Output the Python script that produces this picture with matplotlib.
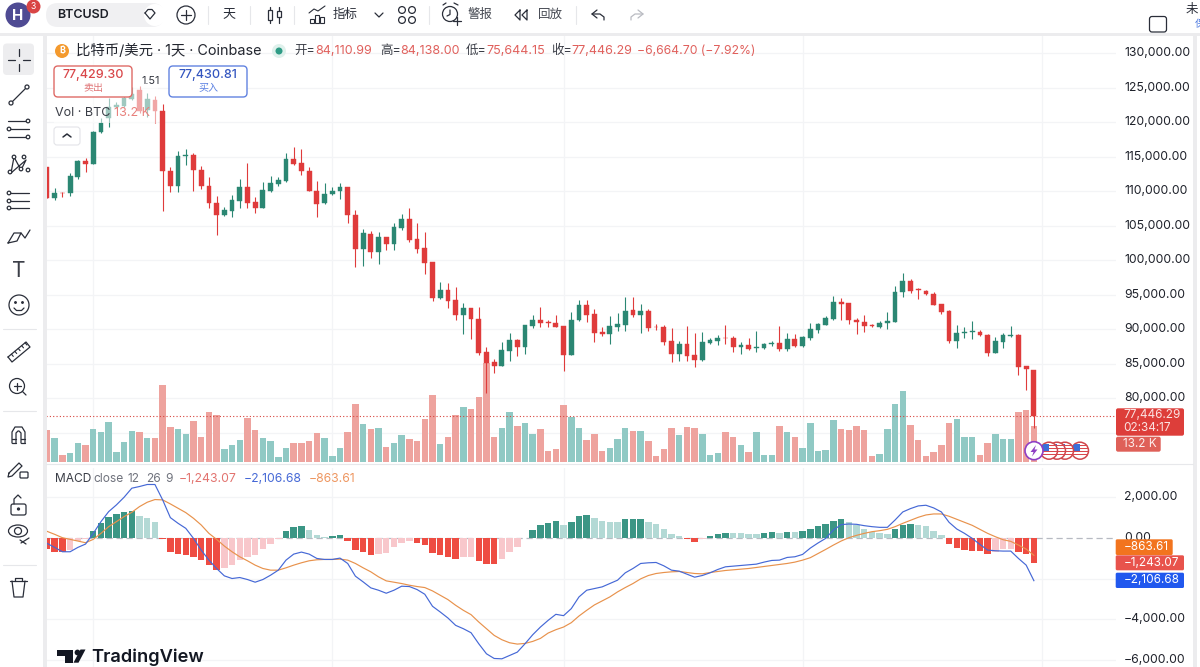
import matplotlib
matplotlib.use('Agg')
import matplotlib.pyplot as plt
import matplotlib.patches as mpatches
from matplotlib.transforms import blended_transform_factory, ScaledTranslation
import numpy as np

# daily candles
candle_open = [113480, 108990, 109810, 109710, 112030, 114400, 114010, 118550, 120580, 122270,
               122370, 123330, 124685, 121790, 123240, 121690, 113000, 110780, 115120, 115270,
               113090, 110830, 108260, 106520, 107200, 108650, 110580, 108410, 107590, 110100,
               111020, 111550, 114640, 114060, 113000, 110050, 108260, 109570, 110000, 110580,
               106520, 101600, 103870, 101260, 103390, 102320, 104740, 106040, 103090, 101740,
               99760, 94490, 95700, 94250, 92080, 93050, 91500, 86670, 85220, 84740,
               86910, 88460, 87440, 90490, 91350, 91060, 90970, 90490, 86330, 91310,
               93480, 92220, 89570, 89330, 90390, 90680, 92760, 92130, 92610, 90390,
               90340, 88310, 86480, 87880, 86280, 85510, 88070, 88360, 88800, 88700,
               87440, 87780, 87340, 87300, 87930, 88020, 87150, 88600, 87510, 88720,
               89930, 90650, 91430, 93890, 93790, 91380, 91090, 90600, 90360, 90940,
               91090, 95340, 97030, 95770, 95580, 95100, 93600, 92590, 88290, 89490,
               89590, 89590, 89200, 86550, 88140, 89010, 89200, 84620, 84110.99]
candle_high = [113480, 110440, 109950, 112610, 114540, 114880, 118790, 120580, 123480, 123000,
               124200, 125170, 125265, 124200, 123820, 122610, 113480, 115850, 116090, 115510,
               113670, 112030, 109330, 107680, 109470, 111790, 114060, 109230, 111400, 112220,
               112030, 115510, 116470, 116090, 113480, 111550, 111160, 110580, 111260, 110680,
               107300, 104500, 104300, 104160, 103440, 105460, 106720, 107530, 105360, 104150,
               99810, 96910, 96670, 96090, 93770, 93100, 93190, 87490, 85650, 88120,
               89420, 88550, 90630, 92030, 93290, 91310, 92030, 90540, 92470, 94250,
               94250, 92900, 90390, 91930, 92320, 94740, 94640, 93620, 92900, 90770,
               90580, 90150, 88260, 90490, 89520, 89570, 88700, 89130, 90580, 88990,
               88120, 88750, 89710, 88020, 88260, 90490, 89520, 89280, 89010, 90940,
               90850, 91910, 94860, 94470, 93840, 91670, 92010, 90800, 91230, 92440,
               96300, 98090, 97270, 95920, 95680, 95430, 93650, 92780, 90560, 90270,
               91180, 89880, 89250, 88820, 89490, 90510, 89300, 84660, 84138.00]
candle_low = [108990, 108750, 109130, 109330, 111740, 112850, 113950, 118410, 119370, 122030,
              122270, 123240, 121400, 120700, 119860, 107200, 109950, 109950, 113770, 110100,
              110290, 107640, 103670, 106430, 106230, 107540, 107640, 106810, 107540, 109900,
              110780, 111350, 113870, 112320, 110000, 106330, 108170, 109420, 108940, 105460,
              98990, 99180, 100290, 99420, 101500, 101500, 104400, 102610, 101010, 98020,
              94160, 94440, 93050, 91350, 89280, 88600, 86230, 80770, 83630, 84690,
              85410, 86140, 86480, 90240, 90390, 90390, 90340, 83920, 86280, 91210,
              91060, 88210, 89080, 87920, 89710, 89710, 91740, 89420, 89710, 89950,
              87680, 85220, 85370, 85410, 84590, 85370, 87920, 87680, 87880, 86720,
              86480, 87060, 86720, 87200, 87540, 86910, 86860, 87390, 87460, 88430,
              89400, 90560, 91330, 91330, 90750, 89300, 89640, 90310, 90220, 90030,
              90990, 94610, 95190, 94370, 94950, 93500, 92150, 87950, 87220, 88670,
              88620, 89010, 86160, 86500, 87270, 88820, 83360, 81190, 75644.15]
candle_close = [108990, 109810, 109710, 112220, 114400, 114010, 118650, 119950, 122270, 122510,
                123480, 124110, 121690, 123330, 121690, 113000, 110780, 115120, 115220, 113090,
                110780, 108260, 106520, 107300, 108750, 110580, 108360, 107590, 110200, 111160,
                111640, 114690, 114010, 112950, 110000, 108220, 109660, 110050, 110580, 106520,
                101600, 103920, 101260, 103340, 102320, 104830, 106040, 102950, 101690, 99660,
                94490, 95700, 94160, 92080, 93050, 91450, 86620, 85170, 84740, 86960,
                88460, 87440, 90580, 91350, 90920, 90870, 90390, 86330, 91350, 93530,
                92130, 89470, 89370, 90440, 90730, 92710, 92080, 92610, 90240, 90290,
                88210, 86480, 87880, 86190, 85510, 88170, 88460, 88750, 88700, 87440,
                87780, 87100, 87440, 87930, 88070, 87150, 88600, 87540, 88820, 89980,
                90700, 91620, 93940, 93700, 91330, 91040, 90460, 90510, 90940, 91230,
                95340, 96980, 95580, 95680, 95050, 93550, 92440, 88290, 89490, 89640,
                89690, 89110, 86550, 88290, 89200, 89200, 84570, 84180, 77446.29]

# volume, thousands of BTC
volume_k = [11.8, 8.7, 2.7, 3.4, 7.0, 6.3, 12.1, 11.0, 14.8, 3.8,
            7.4, 11.4, 11.0, 8.7, 8.7, 28.0, 12.8, 12.1, 10.4, 15.1,
            9.3, 18.5, 17.2, 4.7, 6.4, 8.1, 16.1, 11.8, 8.7, 7.8,
            1.9, 5.1, 7.0, 7.0, 7.8, 10.8, 8.7, 2.3, 5.1, 11.0,
            21.2, 13.8, 12.1, 12.5, 5.7, 7.0, 9.8, 8.4, 7.8, 15.8,
            24.6, 6.7, 9.1, 17.2, 20.2, 19.5, 23.6, 36.0, 9.3, 12.5,
            18.5, 13.1, 14.2, 10.4, 12.1, 4.1, 4.7, 20.8, 16.5, 12.5,
            8.1, 10.4, 4.1, 5.3, 8.5, 12.5, 11.4, 11.4, 7.8, 2.3,
            4.7, 12.5, 9.8, 12.8, 12.5, 10.2, 2.7, 3.4, 11.0, 9.1,
            6.4, 3.8, 11.0, 2.7, 2.7, 13.1, 11.0, 9.4, 5.3, 14.4,
            4.0, 4.4, 15.4, 12.0, 11.6, 13.1, 11.8, 2.3, 3.0, 12.0,
            21.4, 25.8, 13.5, 8.0, 2.3, 3.8, 6.4, 14.2, 15.8, 9.1,
            9.3, 2.7, 7.0, 10.4, 8.4, 8.4, 18.4, 19.1, 13.2]

# macd pane
macd_hist = [-574, -689, -722, -607, -148, -66, 328, 705, 1017, 1148,
             1246, 1296, 1066, 968, 754, -49, -705, -787, -836, -935,
             -1099, -1345, -1574, -1492, -1345, -1099, -935, -869, -574, -312,
             -49, 328, 508, 574, 377, 148, 49, 66, 115, -148,
             -607, -705, -836, -787, -738, -476, -246, -180, -262, -377,
             -738, -836, -935, -1033, -968, -935, -1164, -1296, -1312, -1033,
             -705, -476, -16, 377, 607, 738, 836, 607, 787, 1050,
             1115, 968, 836, 787, 771, 918, 935, 935, 754, 656,
             426, 164, 98, -66, -213, -66, 66, 180, 246, 230,
             213, 197, 180, 246, 262, 230, 279, 262, 328, 410,
             558, 656, 836, 918, 754, 623, 426, 295, 246, 197,
             426, 640, 656, 640, 574, 344, 148, -328, -508, -607,
             -656, -672, -787, -705, -574, -541, -705, -787, -1243.07]
macd_line = [-279, -476, -689, -689, -476, -312, 213, 787, 1279, 1607,
             1984, 2427, 2509, 2608, 2608, 1853, 984, 705, 459, -33,
             -607, -1099, -1509, -1870, -2001, -1952, -2050, -2181, -2050, -1837,
             -1591, -1099, -804, -705, -804, -1017, -1066, -1066, -1000, -1263,
             -1886, -2165, -2460, -2575, -2722, -2575, -2378, -2394, -2542, -2772,
             -3362, -3641, -3936, -4297, -4461, -4658, -5199, -5691, -5920, -5937,
             -5773, -5609, -5199, -4756, -4379, -4051, -3756, -3821, -3477, -2903,
             -2575, -2493, -2411, -2247, -2083, -1722, -1509, -1263, -1230, -1214,
             -1378, -1591, -1640, -1788, -1935, -1853, -1722, -1558, -1427, -1394,
             -1361, -1328, -1296, -1197, -1115, -1099, -968, -935, -820, -510,
             -260, -33, 377, 640, 672, 656, 590, 541, 508, 508,
             869, 1263, 1427, 1558, 1591, 1460, 1263, 754, 426, 213,
             -33, -328, -607, -640, -656, -656, -1017, -1345, -2106.68]
signal_line = [312, 164, 0, -82, -164, -246, -82, 213, 541, 787,
               1033, 1246, 1525, 1738, 1870, 1853, 1656, 1443, 1230, 951,
               623, 213, -82, -410, -689, -935, -1132, -1345, -1509, -1591,
               -1591, -1476, -1345, -1230, -1132, -1082, -1066, -1066, -1050, -1099,
               -1263, -1476, -1673, -1919, -2116, -2181, -2247, -2329, -2394, -2444,
               -2608, -2821, -3034, -3313, -3559, -3772, -4133, -4461, -4789, -5002,
               -5150, -5215, -5182, -5084, -4936, -4674, -4510, -4379, -4166, -3838,
               -3559, -3296, -3100, -2903, -2657, -2444, -2247, -2017, -1853, -1755,
               -1706, -1673, -1656, -1706, -1755, -1771, -1706, -1656, -1607, -1574,
               -1542, -1509, -1460, -1410, -1361, -1312, -1263, -1197, -1100, -980,
               -780, -574, -361, -164, 0, 115, 213, 295, 344, 410,
               541, 705, 853, 1000, 1115, 1164, 1164, 1050, 902, 754,
               607, 410, 213, 49, -98, -180, -361, -558, -863.61]

price_ticks = [130000, 125000, 120000, 115000, 110000, 105000, 100000, 95000, 90000, 85000, 80000]
macd_ticks = [2000, 0, -2000, -4000, -6000]
month_starts = [7, 38, 68, 99, 130]

# params
_dpi = 100
_w, _h = 1200, 667
_font = ['Inter', 'Noto Sans CJK SC', 'DejaVu Sans']
_upcol, _downcol = '#2b8773', '#df3b3b'
_volup, _voldown = '#90c9c4', '#eea39e'
_histup, _histupl = '#3b9685', '#b3d9d5'
_histdown, _histdownl = '#ee4c42', '#f8c7cb'
_blue, _orange = '#4568d6', '#e8924c'
_grid = '#f3f4f6'
_ink = '#2a2e39'
_redtxt = '#e0605c'

plt.rcParams['font.family'] = _font


def add_pane(x0, y0, x1, y1):
    ax = fig.add_axes([x0 / _w, 1 - y1 / _h, (x1 - x0) / _w, (y1 - y0) / _h])
    for s in ax.spines.values():
        s.set_visible(False)
    return ax


def fmt_price(v):
    return f'{v:,.2f}'.replace('-', '\u2212')


def lift_labels(ax, px):
    # scale labels sit a little above their gridlines
    for lab in ax.get_yticklabels():
        lab.set_transform(lab.get_transform() + ScaledTranslation(0, px / _dpi, fig.dpi_scale_trans))


fig = plt.figure(figsize=(_w / _dpi, _h / _dpi), dpi=_dpi, facecolor='white')

x_i = np.arange(1, len(candle_close) + 1)
_xlim = (1 - 1 / 7.71, 1 + (1116 - 47) / 7.71)
o_a, h_a, l_a, c_a = map(np.array, (candle_open, candle_high, candle_low, candle_close))
up_m = c_a >= o_a

# volume sits in its own axes below the candles
ax_vol = add_pane(46, 36, 1116, 462.4)
ax_vol.set_xlim(*_xlim)
ax_vol.set_ylim(0, 155)
ax_vol.set_xticks([])
ax_vol.set_yticks([])
ax_vol.set_zorder(1)
ax_vol.bar(x_i, volume_k, width=0.84, color=np.where(up_m, _volup, _voldown), zorder=3)
for m in month_starts:
    ax_vol.axvline(m, color=_grid, lw=0.9, zorder=1)

ax_price = add_pane(46, 36, 1116, 462.4)
ax_price.set_zorder(2)
ax_price.patch.set_visible(False)
ax_price.set_xlim(*_xlim)
ax_price.set_ylim(130000 - (462.4 - 53.3) / 0.0069, 130000 + (53.3 - 36) / 0.0069)
ax_price.set_xticks([])
ax_price.yaxis.tick_right()
ax_price.set_yticks(price_ticks, [fmt_price(p) for p in price_ticks])
ax_price.tick_params(axis='y', length=0, pad=5.8, labelsize=8.8, labelcolor='#1f222b')
lift_labels(ax_price, 1.4)
_gridtrans = blended_transform_factory(ax_vol.transAxes, ax_price.transData)
for p in price_ticks + [75000]:
    ax_vol.plot([0, 1], [p, p], transform=_gridtrans, color=_grid, lw=0.9, zorder=1)

colors = np.where(up_m, _upcol, _downcol)
ax_price.vlines(x_i, l_a, h_a, colors=colors, lw=0.8, zorder=3)
ax_price.bar(x_i, np.abs(c_a - o_a), bottom=np.minimum(o_a, c_a), width=0.62, color=colors,
             edgecolor=colors, linewidth=0.3, zorder=4)
ax_price.axhline(candle_close[-1], color='#d8423c', lw=0.8, ls=(0, (1, 2)), zorder=5)

# macd pane
ax_macd = add_pane(46, 468, 1116, 667)
ax_macd.set_zorder(1)
ax_macd.set_xlim(*_xlim)
ax_macd.set_ylim(-(667 - 537.7) / 0.0204, (537.7 - 468) / 0.0204)
ax_macd.set_xticks([])
ax_macd.yaxis.tick_right()
# the -2000 label stays hidden behind the value tags
ax_macd.set_yticks(macd_ticks, [fmt_price(v) if v != -2000 else '' for v in macd_ticks])
ax_macd.tick_params(axis='y', length=0, pad=5.8, labelsize=8.8, labelcolor='#1f222b')
lift_labels(ax_macd, 1.4)
for v in macd_ticks:
    if v != 0:
        ax_macd.axhline(v, color=_grid, lw=0.9, zorder=1)
for m in month_starts:
    ax_macd.axvline(m, color=_grid, lw=0.9, zorder=1)
ax_macd.axhline(0, color='#b7bac2', lw=0.9, ls=(0, (5, 3)), zorder=1)

hist_cols = []
for i, v in enumerate(macd_hist):
    prev = macd_hist[i - 1] if i else 0
    if v >= 0:
        hist_cols.append(_histup if v >= prev else _histupl)
    else:
        hist_cols.append(_histdown if v <= prev else _histdownl)
ax_macd.bar(x_i, macd_hist, width=0.84, color=hist_cols, zorder=2)
ax_macd.plot(x_i, signal_line, color=_orange, lw=0.85, zorder=3)
ax_macd.plot(x_i, macd_line, color=_blue, lw=0.85, zorder=4)

# overlay in pixel coords for the toolbars, legends and price tags
ui = fig.add_axes([0, 0, 1, 1])
ui.set_xlim(0, _w)
ui.set_ylim(_h, 0)
ui.axis('off')
ui.set_zorder(10)


def txt(x, y, s, px=12.5, color=_ink, ha='left', weight='normal', alpha=None):
    return ui.text(x, y, s, fontsize=px * 0.72, color=color, ha=ha, va='center',
                   fontweight=weight, alpha=alpha, family=_font)


def rect(x0, y0, x1, y1, color, zorder=1, alpha=None):
    ui.add_patch(mpatches.Rectangle((x0, y0), x1 - x0, y1 - y0, fc=color, ec='none',
                                    zorder=zorder, alpha=alpha))


def rbox(x0, y0, x1, y1, r=2, fc='white', ec='none', lw=1, zorder=2):
    ui.add_patch(mpatches.FancyBboxPatch((x0 + r, y0 + r), x1 - x0 - 2 * r, y1 - y0 - 2 * r,
                                         boxstyle=f'round,pad={r},rounding_size={r}',
                                         fc=fc, ec=ec, lw=lw, zorder=zorder))


def ln(xs, ys, lw=0.9, color=_ink, zorder=3):
    ui.plot(xs, ys, color=color, lw=lw, zorder=zorder, solid_capstyle='round')


def circ(x, y, r, fc='none', ec=_ink, lw=0.9, zorder=3):
    c = mpatches.Circle((x, y), r, fc=fc, ec=ec, lw=lw, zorder=zorder)
    ui.add_patch(c)
    return c


# window chrome
rect(0, 32.5, 1200, 36, '#ececee')
rect(42.5, 36, 46.5, 667, '#ececee')
rect(1193, 36, 1197, 667, '#ececee')
ln([46, 1193], [463.5, 463.5], color='#e7e8eb', lw=0.8)

# top toolbar
circ(18, 15, 12.5, fc='#4f4b93', ec='none')
txt(18, 15.5, 'H', 15, 'white', ha='center', weight='bold')
circ(33.5, 6.5, 7, fc='#d94545', ec='none', zorder=4)
ui.text(33.5, 6.5, '3', fontsize=6.2, color='white', ha='center', va='center', zorder=5)
rbox(46, 3, 164, 27, r=12, fc='#f0f0f2')
txt(57.5, 15, 'BTCUSD', 12.5, '#1c1f27', weight='semibold')
circ(155, 15, 11, fc='white', ec='none')
ln([145, 148, 152, 155, 150, 145], [13, 9.5, 9.5, 13, 19, 13], lw=0.9)
circ(186, 15, 9)
ln([181, 191], [15, 15])
ln([186, 186], [10, 20])
for x_ in [208, 250, 294, 429, 576]:
    ln([x_, x_], [6, 24], color='#e6e7ea', lw=0.8)
txt(229, 15, '天', 13, ha='center')
ln([270, 270], [7, 23])
ln([279, 279], [7, 23])
ui.add_patch(mpatches.Rectangle((268, 10), 4, 10, fc='white', ec=_ink, lw=0.9, zorder=4))
ui.add_patch(mpatches.Rectangle((277, 11), 4, 6, fc='white', ec=_ink, lw=0.9, zorder=4))
for x0_, h_ in [(310, 4), (315, 8), (320, 6)]:
    ui.add_patch(mpatches.Rectangle((x0_, 23 - h_), 4, h_, fc='white', ec=_ink, lw=0.8, zorder=3))
ln([309, 314, 318, 325], [13, 9, 11, 6], lw=0.8)
txt(333, 15, '指标', 12.5)
ln([375, 379, 383], [13, 17, 13])
for gx in [402, 412]:
    for gy in [10, 20]:
        circ(gx, gy, 3.4)
circ(450, 14, 7.5)
ln([450, 450, 447], [10, 14.5, 16])
ln([443, 446], [5, 3])
ln([454, 458], [3, 5])
ln([453, 461], [21, 21])
ln([457, 457], [17, 25])
txt(468, 15, '警报', 12.5, '#454952')
ln([520, 515, 520, 520], [10, 15, 20, 10])
ln([527, 522, 527, 527], [10, 15, 20, 10])
txt(538, 15, '回放', 12.5, '#454952')
ln([597, 592, 597], [10, 14, 18])
ln([592, 600, 604, 604], [14, 14, 17, 20])
ln([638, 643, 638], [10, 14, 18], color='#b9bbc2')
ln([643, 635, 631, 631], [14, 14, 17, 20], color='#b9bbc2')
rbox(1149.5, 16.5, 1166.5, 32, r=2.5, fc='white', ec=_ink, lw=0.9)
txt(1186, 10, '未', 12.5)
txt(1195, 24, '保', 10, '#4a78e0')

# drawing toolbar
rbox(3, 43.5, 34, 75, r=4, fc='#ededef', zorder=1)
ln([8, 15], [60, 60])
ln([23, 30], [60, 60])
ln([19, 19], [49, 56])
ln([19, 19], [64, 71])
ln([11, 27], [103, 87])
circ(11, 103, 2, fc='white')
circ(27, 87, 2, fc='white')
for yy in [121, 129, 137]:
    ln([8, 29], [yy, yy])
    circ(28 if yy != 129 else 9, yy, 1.8, fc='white')
ln([11, 14, 21, 26, 11], [173, 157, 170, 160, 173])
for px_, py_ in [(10, 172), (14, 157), (21, 169), (24, 157), (28, 170)]:
    circ(px_, py_, 1.8, fc='white')
for yy, xc in [(193, 9), (201, 9), (208, 9)]:
    ln([10, 29], [yy, yy])
    circ(xc, yy, 1.8, fc='white')
ln([8, 14, 21, 17, 8], [243, 233, 233, 241, 243])
ln([21, 25, 30], [233, 238, 230])
txt(19, 271, 'T', 21, '#3c3f48', ha='center')
circ(19, 305, 10)
circ(15.5, 302.5, 0.8, fc=_ink)
circ(22.5, 302.5, 0.8, fc=_ink)
ln([14, 16.5, 21.5, 24], [308, 310.5, 310.5, 308])
ln([3, 36], [329, 329], color='#e6e7ea', lw=0.8)
ln([8, 26, 30, 12, 8], [357, 342, 347, 362, 357])
for k in range(5):
    tx_ = 11.5 + k * 3.4
    ty_ = 354.2 - k * 2.85
    ln([tx_, tx_ + 1.8], [ty_, ty_ + 2.2], lw=0.8)
circ(17, 386, 7.5)
ln([13.5, 20.5], [386, 386])
ln([17, 17], [382.5, 389.5])
ln([22.5, 26], [391.5, 395])
ln([3, 36], [411, 411], color='#e6e7ea', lw=0.8)
ln([12, 12, 15, 22, 25, 25], [443, 432, 427, 427, 432, 443])
ln([16, 16, 18, 19, 21, 21], [443, 433, 431, 431, 433, 443])
ln([12, 16], [443, 443])
ln([21, 25], [443, 443])
ln([12, 16], [439, 439])
ln([21, 25], [439, 439])
ln([9, 19, 22, 12, 8, 9], [473, 463, 466, 476, 477, 473])
rbox(20, 472, 28, 478, r=1, fc='white', ec=_ink, lw=0.9, zorder=3)
rbox(11, 504, 26, 515, r=2, fc='white', ec=_ink, lw=0.9, zorder=3)
ln([14, 14, 18, 21], [504, 499, 495, 498])
circ(18.5, 509, 1, fc=_ink, zorder=4)
ui.add_patch(mpatches.Ellipse((18, 531), 19, 12, fc='none', ec=_ink, lw=0.9, zorder=3))
circ(18, 531, 3.5)
ln([21, 29], [543, 538])
ln([20, 26], [540, 544])
ln([3, 36], [564.5, 564.5], color='#e6e7ea', lw=0.8)
ln([10, 27], [581, 581])
ln([15, 15, 22, 22], [581, 578, 578, 581])
ln([12, 14, 23, 25], [581, 597, 597, 581])

# symbol header
circ(62, 51, 7, fc='#f49a2e', ec='none')
txt(62, 51, '\u20bf', 9, 'white', ha='center', weight='bold')
txt(76, 51, '比特币/美元 · 1天 · Coinbase', 14.4, '#23262f')
circ(279, 51, 7, fc='#dff1ec', ec='none')
circ(279, 51, 3.5, fc='#2f9c86', ec='none', zorder=4)
_ohlc = [(294, '开=', 315, candle_open[-1]), (380, '高=', 400, candle_high[-1]),
         (466, '低=', 486, candle_low[-1]), (551, '收=', 571, candle_close[-1])]
for x0_, lab, x1_, val in _ohlc:
    txt(x0_, 51, lab, 12.5, '#3b3e47')
    txt(x1_, 51, fmt_price(val), 12.5, _redtxt)
txt(637, 51, '\u22126,664.70 (\u22127.92%)', 12.2, _redtxt)

# faded backdrop under the legend block
rect(54, 58, 158, 122.5, 'white', zorder=1, alpha=0.55)

# sell / buy buttons
rbox(54, 66, 132, 97, r=4, fc='white', ec='#df6a66', lw=1)
txt(93, 75, '77,429.30', 12.5, '#d9474a', ha='center', weight='medium').set_zorder(4)
txt(93, 88, '卖出', 10, '#e0787a', ha='center').set_zorder(4)
rbox(169, 66, 247, 97, r=4, fc='white', ec='#6283e0', lw=1)
txt(208, 75, '77,430.81', 12.5, '#3456c0', ha='center', weight='medium').set_zorder(4)
txt(208, 88, '买入', 10, '#5b80e2', ha='center').set_zorder(4)
txt(141, 81.5, '1.51', 10.8, '#33363f')

# volume legend
txt(55, 113, 'Vol · BTC', 12.5, '#3b3e47')
txt(114, 113, '13.2 K', 12.5, '#e8807c')
rbox(54, 127, 80, 145, r=3, fc='white', ec='#e3e4e8', lw=0.8)
ln([63, 67, 71], [137, 134, 137], lw=1.1)

# macd legend
txt(55, 478.5, 'MACD', 12, '#3b3e47')
txt(93, 478.5, 'close', 12, '#70737d')
txt(128, 478.5, '12', 12, '#70737d')
txt(146, 478.5, '26', 12, '#70737d')
txt(165, 478.5, '9', 12, '#70737d')
txt(179, 478.5, '\u22121,243.07', 12.2, '#e2736f')
txt(244, 478.5, '\u22122,106.68', 12.2, _blue)
txt(309, 478.5, '\u2212863.61', 12.2, '#ee9660')

# price tags on the right scale
rbox(1116, 408.3, 1184, 435.7, r=2, fc='#dd3e3a', zorder=5)
for y_, s_ in [(415.5, fmt_price(candle_close[-1])), (428, '02:34:17')]:
    txt(1123, y_, s_, 11.8, '#fbe3e2').set_zorder(6)
rbox(1116, 436.7, 1160.7, 451.7, r=2, fc='#df6058', zorder=5)
txt(1123, 444.3, f'{volume_k[-1]:.1f} K', 11.8, '#fdeeed').set_zorder(6)
rbox(1115.7, 539.3, 1172.7, 555, r=1.5, fc='#f2741e', zorder=5)
txt(1124, 547.2, fmt_price(signal_line[-1]), 11.8, 'white').set_zorder(6)
rbox(1115.7, 555.3, 1184, 570.3, r=1.5, fc='#e8534c', zorder=5)
txt(1124, 563, fmt_price(macd_hist[-1]), 11.8, 'white').set_zorder(6)
rbox(1115.7, 572.7, 1184, 588, r=1.5, fc='#2158ee', zorder=5)
txt(1124, 580.4, fmt_price(macd_line[-1]), 11.8, 'white').set_zorder(6)


# news and event badges next to the last candle
def flag_badge(x, y, zo):
    base = circ(x, y, 8.5, fc='white', ec='#d0464c', lw=1.1, zorder=zo)
    for yy in np.arange(y - 6, y + 6, 3):
        p = mpatches.Rectangle((x - 8, yy), 16, 1.5, fc='#d9484d', ec='none', zorder=zo + 0.1)
        ui.add_patch(p)
        p.set_clip_path(base)
    p = mpatches.Rectangle((x - 8, y - 7), 8, 7, fc='#3b6fd8', ec='none', zorder=zo + 0.2)
    ui.add_patch(p)
    p.set_clip_path(base)


for n, xb in enumerate([1080, 1065, 1057, 1049]):
    flag_badge(xb, 450.7, 4 + n)
circ(1034, 450.7, 9, fc='white', ec='#8f3fc4', lw=1.2, zorder=8)
ui.add_patch(mpatches.Polygon([(1036, 445), (1030.5, 452), (1033.5, 452), (1032, 456.5),
                               (1037.5, 449.5), (1034.5, 449.5)], fc='#8f3fc4', ec='none', zorder=9))

# wordmark
ui.add_patch(mpatches.Polygon([(57.3, 649.5), (73.3, 649.5), (73.3, 662.7), (65.3, 662.7),
                               (65.3, 656), (57.3, 656)], fc='#131722', ec='none', zorder=4))
circ(77.5, 652.5, 2.9, fc='#131722', ec='none', zorder=4)
ui.add_patch(mpatches.Polygon([(80.5, 649.5), (85.5, 649.5), (78.5, 662.7), (73.5, 662.7)],
                              fc='#131722', ec='none', zorder=4))
txt(91.5, 657, 'TradingView', 18.3, '#131722', weight='semibold').set_zorder(4)

fig.savefig('out.png', dpi=_dpi)
